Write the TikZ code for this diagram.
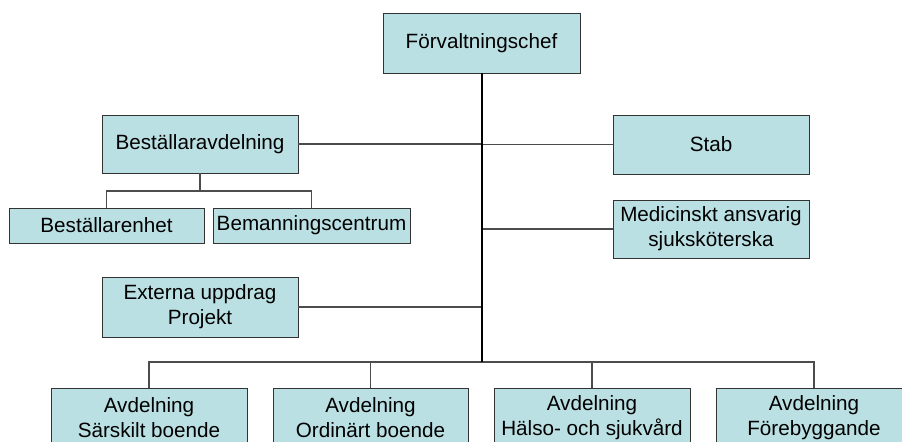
\documentclass[tikz,border=0pt]{standalone}
\usepackage{fontspec}
\setmainfont{Liberation Sans}
\definecolor{boxfill}{RGB}{187,224,227}
\tikzset{
  orgbox/.style={draw=black!80, line width=0.7pt, fill=boxfill, rectangle, align=center,
    inner sep=0pt, font=\fontsize{15.5}{18.8}\selectfont},
  conn/.style={draw=black!70, line width=0.9pt},
  trunk/.style={draw=black, line width=1.5pt}
}
\begin{document}
\begin{tikzpicture}[x=0.75pt,y=0.75pt,yscale=-1,xscale=1]
\clip (0,0) rectangle (902,442);

%Shape: Rectangle [id:chef]
\node[orgbox, minimum width=147.75pt, minimum height=45pt] (chef) at (481.5,43) {Förvaltningschef};
%Shape: Rectangle [id:bestall]
\node[orgbox, minimum width=147pt, minimum height=43.5pt] (bestall) at (200,144) {Beställaravdelning};
%Shape: Rectangle [id:stab]
\node[orgbox, minimum width=147pt, minimum height=44.25pt] (stab) at (711,144.5) {Stab};
%Shape: Rectangle [id:medic]
\node[orgbox, minimum width=147pt, minimum height=43.5pt] (medic) at (711,229) {Medicinskt ansvarig\\sjuksköterska};
%Shape: Rectangle [id:enhet]
\node[orgbox, minimum width=146.25pt, minimum height=26.25pt] (enhet) at (106.5,225.5) {Beställarenhet};
%Shape: Rectangle [id:beman]
\node[orgbox, minimum width=147.75pt, minimum height=26.25pt] (beman) at (311.5,225.5) {Bemanningscentrum};
%Shape: Rectangle [id:extern]
\node[orgbox, minimum width=147pt, minimum height=45pt] (extern) at (200,307) {Externa uppdrag\\Projekt};

%Shape: Rectangle [id:avd]
\node[orgbox, minimum width=147pt, minimum height=45pt] (avd1) at (149,418) {Avdelning\\Särskilt boende};
\node[orgbox, minimum width=146.25pt, minimum height=45pt] (avd2) at (370.5,418) {Avdelning\\Ordinärt boende};
\node[orgbox, minimum width=147pt, minimum height=45pt] (avd3) at (592,418) {Avdelning\\Hälso- och sjukvård};
\node[orgbox, minimum width=147pt, minimum height=45pt] (avd4) at (814,418) {Avdelning\\Förebyggande};

\coordinate (shub) at (200,191);
\coordinate (bhub) at (481.5,362);

%Straight Lines [id:bestall-children]
\draw[conn] (bestall.south) -- (shub);
\draw[conn] (enhet.north) |- (shub) -| (beman.north);

%Straight Lines [id:side-branches]
\draw[conn] (bestall.east) -- (bestall.east -| bhub);
\draw[conn] (stab.west) -- (stab.west -| bhub);
\draw[conn] (medic.west) -- (medic.west -| bhub);
\draw[conn] (extern.east) -- (extern.east -| bhub);

%Straight Lines [id:bottom-branches]
\draw[conn] (avd1.north) |- (bhub) -| (avd4.north);
\draw[conn] (avd2.north) -- (avd2.north |- bhub);
\draw[conn] (avd3.north) -- (avd3.north |- bhub);

%Straight Lines [id:trunk]
\draw[trunk] (chef.south) -- (bhub);

\end{tikzpicture}
\end{document}
